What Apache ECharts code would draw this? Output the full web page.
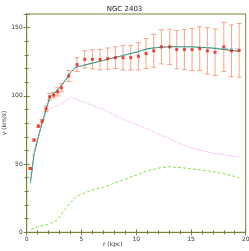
<!DOCTYPE html>
<html><head><meta charset="utf-8">
<script src="https://cdn.jsdelivr.net/npm/echarts@6/dist/echarts.min.js"></script>
<style>html,body{margin:0;padding:0;background:#fff}#c{width:249px;height:251px}</style>
</head><body><div id="c"></div>
<script>
var title = "NGC 2403";
var xName = "r (kpc)";
var yName = "v (km/s)";
// observed rotation curve
var obsR = [0.33,0.67,1.07,1.4,1.77,2.1,2.47,2.83,3.17,3.84,4.6,5.3,6.0,6.7,7.4,8.1,8.8,9.5,10.2,10.9,11.6,12.3,13.06,13.7,14.4,15.1,15.8,16.5,17.2,18.0,18.7,19.4];
var obsV = [46.8,67.6,77.8,81.5,90.5,99.3,100.5,103,105.9,114.6,122.9,126.8,126.8,126.6,127.3,128,128,128,129,131,133,135.9,135.9,133.9,133.9,133.9,134.6,133,132,135.9,133,133.4];
var obsErr = [0.5,0.8,1,1.2,2,2.5,2,3,3,4,5,6.3,7,7.5,7.8,8,9,9,10,11,12,12.5,13,14,14.7,15.4,16,17,17,18,19,19.7];
// model curves
var modelR = [0.33,0.67,1,1.4,1.77,2.1,2.5,3,3.5,4,4.5,5,6,7,8,9,10,11,12,13,14,15,16,17,18,19,19.4];
var totalV = [36,57,68,80,90,99,102,106,111,117,121,122,124,126,128,130,132,134.5,135.5,136,136,136,135.5,135,134,133,132.5];
var fitV   = [36,57,68,80,90,99,102,106,111,117,121,122,124,126,128,130,132,134.5,135.5,136,136,136,135.5,135.2,134.8,134.4,134.2];
var diskR = [0.5,1,1.4,1.77,2.1,2.5,3,3.5,4,5,6,7,8,9,10,11,12,13,14,15,16,17,18,19.4];
var diskV = [55,70,79,87,91,92,93,96,99,96,93,90,86,82,79,76,72,69,65,62,60,58,57,55];
var gasR = [0.4,1,2,2.8,3.5,4,4.5,5,6,7,8,9,10,11,12,13,14,15,16,17,18,19.4];
var gasV = [2,4,6,9,17,22,26,28,31,33,36,39,42,45,47,48,47.5,46.5,45.5,44.5,43,40];

function pairs(a,b){return a.map(function(v,i){return [v,b[i]];});}
var axisCol = '#7f7f3a';
var chart = echarts.init(document.getElementById('c'), null, {renderer:'canvas'});
var errData = obsR.map(function(r,i){return [r, obsV[i]-obsErr[i], obsV[i]+obsErr[i]];});
var lab = {fontSize:6, color:'#333', fontFamily:'DejaVu Sans'};
chart.setOption({
  animation:false,
  title:{text:title,left:'center',top:1,textStyle:{fontSize:7,fontWeight:'normal',color:'#222',fontFamily:'DejaVu Sans'}},
  grid:{left:26.7,right:3.3,top:14,bottom:18.7,show:true,borderColor:axisCol,borderWidth:1,containLabel:false,outerBoundsMode:'none'},
  xAxis:[{type:'value',min:0,max:20,interval:5,
     axisLine:{show:true,lineStyle:{color:axisCol}},
     axisTick:{inside:true,length:3,lineStyle:{color:axisCol}},
     minorTick:{show:true,splitNumber:5,length:2,lineStyle:{color:axisCol}},
     splitLine:{show:false},axisLabel:Object.assign({margin:4},lab)},
    {type:'value',position:'top',min:0,max:20,interval:5,
     axisLine:{show:true,lineStyle:{color:axisCol}},
     axisTick:{inside:true,length:3,lineStyle:{color:axisCol}},
     minorTick:{show:true,splitNumber:5,length:2,lineStyle:{color:axisCol}},
     splitLine:{show:false},axisLabel:{show:false}}],
  yAxis:[{type:'value',min:0,max:160,interval:50,
     axisLine:{show:true,lineStyle:{color:axisCol}},
     axisTick:{inside:true,length:3,lineStyle:{color:axisCol}},
     minorTick:{show:true,splitNumber:5,length:2,lineStyle:{color:axisCol}},
     splitLine:{show:false},axisLabel:Object.assign({margin:4,showMaxLabel:false},lab)},
    {type:'value',position:'right',min:0,max:160,interval:50,
     axisLine:{show:true,lineStyle:{color:axisCol}},
     axisTick:{inside:true,length:3,lineStyle:{color:axisCol}},
     minorTick:{show:true,splitNumber:5,length:2,lineStyle:{color:axisCol}},
     splitLine:{show:false},axisLabel:{show:false}}],
  graphic:[
    {type:'text',left:103,top:241,style:{text:xName,fontSize:6,fill:'#333',fontFamily:'DejaVu Sans'}},
    {type:'text',x:4,y:123,rotation:Math.PI/2,style:{text:yName,fontSize:6,fill:'#333',fontFamily:'DejaVu Sans',align:'center',verticalAlign:'middle'}}
  ],
  series:[
    {type:'line',data:pairs(gasR,gasV),showSymbol:false,lineStyle:{color:'#88e050',width:1,type:[3,2]},z:2},
    {type:'line',data:pairs(diskR,diskV),showSymbol:false,lineStyle:{color:'#f090f0',width:1,type:[1,1.5]},z:2},
    {type:'custom',data:errData,z:3,renderItem:function(params,api){
      var x=api.value(0);
      var lo=api.coord([x,api.value(1)]), hi=api.coord([x,api.value(2)]);
      var w=2.5;
      var st={stroke:'#f59670',lineWidth:1,opacity:0.85};
      return {type:'group',children:[
        {type:'line',shape:{x1:lo[0],y1:lo[1],x2:hi[0],y2:hi[1]},style:st},
        {type:'line',shape:{x1:lo[0]-w,y1:lo[1],x2:lo[0]+w,y2:lo[1]},style:st},
        {type:'line',shape:{x1:hi[0]-w,y1:hi[1],x2:hi[0]+w,y2:hi[1]},style:st}
      ]};
    }},
    {type:'line',data:pairs(modelR,totalV),showSymbol:false,lineStyle:{color:'#3b6e48',width:1},z:4},
    {type:'line',data:pairs(modelR,fitV),showSymbol:false,lineStyle:{color:'#40d8d8',width:0.8,type:[3,2]},z:5},
    {type:'scatter',data:pairs(obsR,obsV),symbol:'rect',symbolSize:3,itemStyle:{color:'#ee1c1c'},z:6}
  ]
});
</script></body></html>
